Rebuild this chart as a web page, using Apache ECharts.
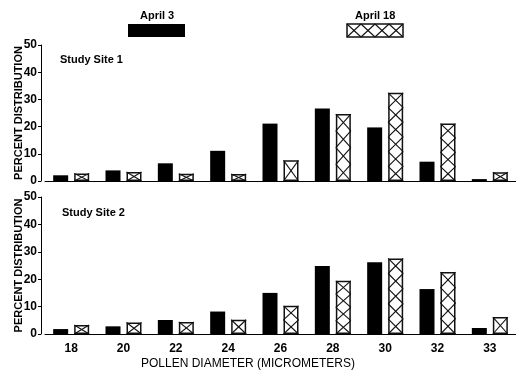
<!DOCTYPE html>
<html>
<head>
<meta charset="utf-8">
<script src="https://cdn.jsdelivr.net/npm/echarts@6/dist/echarts.min.js"></script>
<style>
html,body{margin:0;padding:0;background:#fff;}
#chart{width:516px;height:375px;}
</style>
</head>
<body>
<div id="chart"></div>
<script>
// ---- data ----
const categories = ['18', '20', '22', '24', '26', '28', '30', '32', '33'];
const site1April3 = [2.1, 3.9, 6.5, 11.1, 21.1, 26.7, 19.7, 7.1, 0.7];
const site1April18 = [2.8, 3.3, 2.7, 2.6, 7.6, 24.6, 32.4, 21.1, 3.2];
const site2April3 = [1.8, 2.8, 5.1, 8.2, 15.0, 24.8, 26.2, 16.4, 2.2];
const site2April18 = [3.3, 4.2, 4.4, 5.2, 10.3, 19.4, 27.6, 22.6, 6.2];
const yMin = 0, yMax = 50, yStep = 10;
const seriesNames = ['April 3', 'April 18'];
const panelTitles = ['Study Site 1', 'Study Site 2'];
const yTitle = 'PERCENT DISTRIBUTION';
const xTitle = 'POLLEN DIAMETER (MICROMETERS)';

// ---- style ----
const FONT = "'Liberation Sans', Arial, sans-serif";
const BW = 15, GAP = 6;

function hatchLines(x0, yTop, yBot, w, style) {
  const h = yBot - yTop;
  const out = [];
  if (h <= 0.5) return out;
  const n = Math.max(1, Math.round(h / w));
  const ch = h / n;
  for (let i = 0; i < n; i++) {
    const yb = yBot - i * ch, yt = yBot - (i + 1) * ch;
    out.push({type: 'line', shape: {x1: x0, y1: yb, x2: x0 + w, y2: yt}, style: style});
    out.push({type: 'line', shape: {x1: x0, y1: yt, x2: x0 + w, y2: yb}, style: style});
  }
  return out;
}

function hatchRender(params, api) {
  const idx = api.value(0), v = api.value(1);
  const base = api.coord([idx, 0]);
  const top = api.coord([idx, v]);
  const x0 = base[0] + GAP / 2;
  return {
    type: 'group',
    silent: true,
    children: hatchLines(x0, top[1], base[1], BW, {stroke: '#111', lineWidth: 1.1})
  };
}

const chart = echarts.init(document.getElementById('chart'), null, {renderer: 'canvas'});

function grid(top, height) {
  return {left: 45, width: 473, top: top, height: height, containLabel: false};
}
function yAxis(gi) {
  return {
    type: 'value', gridIndex: gi, min: yMin, max: yMax, interval: yStep, offset: 4,
    name: yTitle, nameLocation: 'middle', nameGap: 17, nameRotate: 90, nameMoveOverlap: false,
    nameTextStyle: {fontFamily: FONT, fontWeight: 'bold', fontSize: 11, color: '#000'},
    axisLine: {show: true, lineStyle: {color: '#000', width: 1}},
    axisTick: {show: true, length: 3, lineStyle: {color: '#000'}},
    axisLabel: {fontFamily: FONT, fontWeight: 'bold', fontSize: 12, color: '#000', margin: 4},
    splitLine: {show: false}
  };
}
function xAxis(gi, showLabels) {
  return {
    type: 'category', gridIndex: gi, data: categories, boundaryGap: true,
    axisLine: {show: true, onZero: false, lineStyle: {color: '#000', width: 1}},
    axisTick: {show: false},
    axisLabel: {show: showLabels, fontFamily: FONT, fontWeight: 'bold', fontSize: 12, color: '#000', margin: 9},
    splitLine: {show: false}
  };
}
function toPairs(arr) { return arr.map((v, i) => [i, v]); }

function seriesFor(gi, a3, a18) {
  return [
    {
      type: 'bar', name: seriesNames[0], xAxisIndex: gi, yAxisIndex: gi, data: a3,
      barWidth: BW, barGap: (GAP / BW * 100) + '%',
      itemStyle: {color: '#000'}, silent: true
    },
    {
      type: 'bar', name: seriesNames[1], xAxisIndex: gi, yAxisIndex: gi, data: a18,
      barWidth: BW, barGap: (GAP / BW * 100) + '%',
      itemStyle: {color: '#fff', borderColor: '#111', borderWidth: 1.5}, silent: true
    },
    {
      type: 'custom', xAxisIndex: gi, yAxisIndex: gi, data: toPairs(a18),
      renderItem: hatchRender, silent: true, z: 5
    }
  ];
}

// legend swatch (hatched)
function legendHatch(x, y, w, h, cells) {
  const ch = [{type: 'rect', shape: {x: x, y: y, width: w, height: h}, style: {fill: '#fff', stroke: '#111', lineWidth: 1.5}}];
  const cw = w / cells;
  for (let i = 0; i < cells; i++) {
    ch.push({type: 'line', shape: {x1: x + i * cw, y1: y, x2: x + (i + 1) * cw, y2: y + h}, style: {stroke: '#111', lineWidth: 1.1}});
    ch.push({type: 'line', shape: {x1: x + i * cw, y1: y + h, x2: x + (i + 1) * cw, y2: y}, style: {stroke: '#111', lineWidth: 1.1}});
  }
  return {type: 'group', children: ch};
}

const option = {
  backgroundColor: '#fff',
  animation: false,
  grid: [grid(45, 136), grid(197, 137)],
  xAxis: [xAxis(0, false), xAxis(1, true)],
  yAxis: [yAxis(0), yAxis(1)],
  series: [].concat(seriesFor(0, site1April3, site1April18), seriesFor(1, site2April3, site2April18)),
  graphic: [
    {type: 'text', left: 157 - 17, top: 10, style: {text: seriesNames[0], font: 'bold 11px ' + FONT, fill: '#000'}},
    {type: 'rect', shape: {x: 128, y: 24, width: 57, height: 13}, style: {fill: '#000'}},
    {type: 'text', left: 375 - 20, top: 10, style: {text: seriesNames[1], font: 'bold 11px ' + FONT, fill: '#000'}},
    legendHatch(347, 24, 56, 13, 4),
    {type: 'text', left: 60, top: 54, style: {text: panelTitles[0], font: 'bold 11px ' + FONT, fill: '#000'}},
    {type: 'text', left: 62, top: 207, style: {text: panelTitles[1], font: 'bold 11px ' + FONT, fill: '#000'}},
    {type: 'text', left: 141, top: 358, style: {text: xTitle, font: '12px ' + FONT, fill: '#000'}}
  ]
};
chart.setOption(option);
</script>
</body>
</html>
